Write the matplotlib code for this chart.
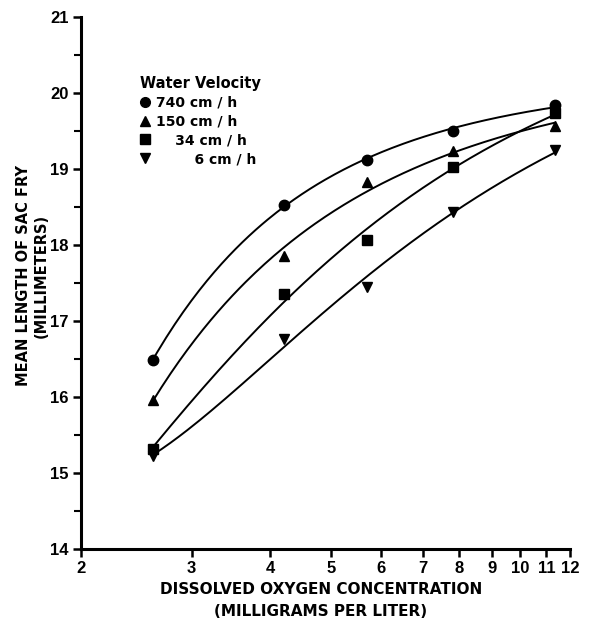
import numpy as np
import matplotlib
matplotlib.use("Agg")
from matplotlib import pyplot as plt
from matplotlib.ticker import FixedLocator, NullLocator, FixedFormatter
from matplotlib.lines import Line2D

# dissolved oxygen (mg/l)
oxygen = [2.6, 4.2, 5.7, 7.8, 11.35]

# mean length of sac fry (mm) for each water velocity
len_740 = [16.48, 18.53, 19.12, 19.50, 19.84]
len_150 = [15.96, 17.85, 18.83, 19.23, 19.56]
len_34 = [15.32, 17.35, 18.07, 19.03, 19.74]
len_6 = [15.22, 16.76, 17.45, 18.43, 19.25]

labels = ["740 cm / h", "150 cm / h", "\u2007\u200734 cm / h", "\u2007\u2007\u2007\u20076 cm / h"]
markers = ["o", "^", "s", "v"]
x_ticks = [2, 3, 4, 5, 6, 7, 8, 9, 10, 11, 12]

plt.rcParams["font.family"] = "DejaVu Sans"
plt.rcParams["font.weight"] = "bold"

fig = plt.figure(figsize=(5.89, 6.23), dpi=100)
ax = fig.add_axes([0.1375, 0.1188, 0.8305, 0.854])

series = [len_740, len_150, len_34, len_6]
handles = []
for ys, m, lab in zip(series, markers, labels):
    inv = 1.0 / np.array(oxygen)
    coef = np.polyfit(inv, ys, 2)  # smooth fitted curve through the points
    xs = np.linspace(oxygen[0], oxygen[-1], 200)
    ax.plot(xs, np.polyval(coef, 1.0 / xs), color="black", lw=1.4)
    ax.plot(oxygen, ys, linestyle="none", marker=m, color="black", ms=7.5)
    handles.append(Line2D([], [], linestyle="none", marker=m, color="black", ms=7, label=lab))

ax.set_xscale("log")
ax.set_xlim(2, 12)
ax.set_ylim(14, 21)
ax.xaxis.set_major_locator(FixedLocator(x_ticks))
ax.xaxis.set_major_formatter(FixedFormatter([str(t) for t in x_ticks]))
ax.xaxis.set_minor_locator(NullLocator())
ax.set_yticks(range(14, 22))
ax.set_yticks(np.arange(14.5, 21, 1.0), minor=True)

for s in ["top", "right"]:
    ax.spines[s].set_visible(False)
for s in ["left", "bottom"]:
    ax.spines[s].set_linewidth(2.2)

ax.tick_params(axis="both", which="major", direction="out", length=6, width=1.8, pad=3)
ax.tick_params(axis="y", which="minor", direction="out", length=5, width=1.5)
for t in ax.get_xticklabels() + ax.get_yticklabels():
    t.set_fontfamily("Liberation Sans")
    t.set_fontweight("bold")
    t.set_fontsize(12)

# axis titles placed by hand, two lines each
fig.text(0.545, 1 - 590 / 623, "DISSOLVED OXYGEN CONCENTRATION", ha="center", va="center",
         fontsize=11, fontweight="bold")
fig.text(0.545, 1 - 611 / 623, "(MILLIGRAMS PER LITER)", ha="center", va="center",
         fontsize=11, fontweight="bold")
fig.text(24 / 589, 1 - 276 / 623, "MEAN LENGTH OF SAC FRY", ha="center", va="center",
         rotation=90, fontsize=10.5, fontweight="bold")
fig.text(41 / 589, 1 - 276 / 623, "(MILLIMETERS)", ha="center", va="center",
         rotation=90, fontsize=10.5, fontweight="bold")

leg = ax.legend(handles=handles, title="Water Velocity", loc="upper left",
                bbox_to_anchor=(0.11, 0.9), frameon=False,
                handlelength=0.6, handletextpad=0.5, labelspacing=0.35,
                borderaxespad=0, prop={"weight": "bold", "size": 10})
leg.get_title().set_fontweight("bold")
leg.get_title().set_fontsize(10.5)
leg._legend_box.align = "left"

fig.savefig("out.png", dpi=100)
